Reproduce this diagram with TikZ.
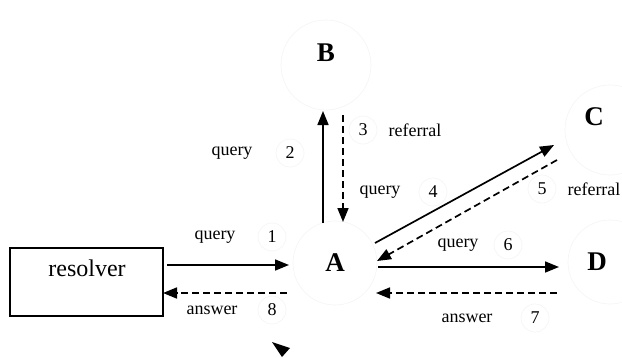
\documentclass[tikz,border=0pt]{standalone}
\usepackage{fontspec}
\setmainfont{Liberation Serif}
\usetikzlibrary{arrows.meta}
\begin{document}
\begin{tikzpicture}[x=1pt,y=-1pt,
  lbl/.style={font=\fontsize{18}{18}\selectfont, inner sep=0},
  srv/.style={font=\bfseries\fontsize{27}{27}\selectfont, inner sep=0},
  arr/.style={line width=1.7pt,-{Triangle[length=14pt,width=11pt]}},
  darr/.style={arr, dash pattern=on 7pt off 4pt},
  ghost/.style={draw=black!4, line width=0.7pt}]
\useasboundingbox (0,0) rectangle (622,357);
% faint scan circles
\draw[ghost] (335,263) circle (42);
\draw[ghost] (326,65) circle (45);
\draw[ghost] (610,130) circle (45);
\draw[ghost] (610,262) circle (42);
\foreach \p in {(272,237),(290,153),(363,130),(433,192),(542,189),(508,245),(535,318),(272,310)}
  \draw[ghost] \p circle (14);
% nodes
\node[draw, line width=1.2pt, minimum width=153pt, minimum height=68pt] (res) at (86.5,282) {};
\node[font=\fontsize{24}{24}\selectfont, inner sep=0] (reslbl) at (87,268) {resolver};
\node[srv] (A) at (335,263) {A};
\node[srv] (B) at (326,53) {B};
\node[srv] (C) at (594,117) {C};
\node[srv] (D) at (597,262) {D};
% endpoints
\coordinate (q1s) at (167,265); \coordinate (q1e) at (289,265);
\coordinate (a8s) at (287,293); \coordinate (a8e) at (163,293);
\coordinate (q2s) at (323,223); \coordinate (q2e) at (323,111);
\coordinate (r3s) at (343,115); \coordinate (r3e) at (343,222);
\coordinate (q4s) at (375,243); \coordinate (q4e) at (554,145);
\coordinate (r5s) at (557,160); \coordinate (r5e) at (377,261);
\coordinate (q6s) at (378,267); \coordinate (q6e) at (559,267);
\coordinate (a7s) at (557,293); \coordinate (a7e) at (376,293);
% connectors
\draw[arr] (q1s) -- (q1e);
\draw[darr] (a8s) -- (a8e);
\draw[arr] (q2s) -- (q2e);
\draw[darr] (r3s) -- (r3e);
\draw[arr] (q4s) -- (q4e);
\draw[darr] (r5s) -- (r5e);
\draw[arr] (q6s) -- (q6e);
\draw[darr] (a7s) -- (a7e);
% labels
\node[lbl] (l1a) at (215,237) {query};   \node[lbl] (l1b) at (272,237) {1};
\node[lbl] (l8a) at (212,310) {answer};  \node[lbl] (l8b) at (272,310) {8};
\node[lbl] (l2a) at (232,153) {query};   \node[lbl] (l2b) at (290,153) {2};
\node[lbl] (l3a) at (363,130) {3};       \node[lbl] (l3b) at (415,130) {referral};
\node[lbl] (l4a) at (380,192) {query};   \node[lbl] (l4b) at (433,192) {4};
\node[lbl] (l5a) at (542,189) {5};       \node[lbl] (l5b) at (594,189) {referral};
\node[lbl] (l6a) at (458,245) {query};   \node[lbl] (l6b) at (508,245) {6};
\node[lbl] (l7a) at (467,318) {answer};  \node[lbl] (l7b) at (535,318) {7};
% stray arrowhead
\fill (272,342) -- (290,348) -- (282,357) -- cycle;
\end{tikzpicture}
\end{document}
